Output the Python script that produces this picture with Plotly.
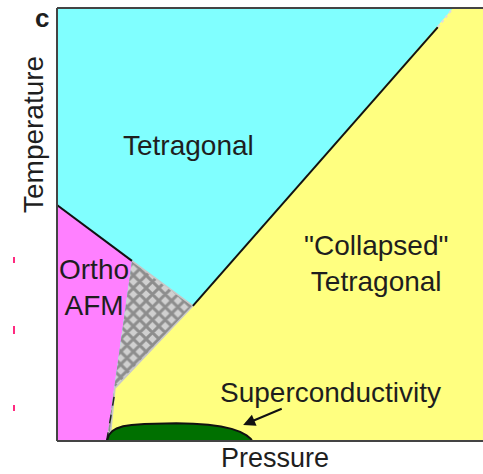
import plotly.graph_objects as go

# Phase-diagram region outlines (Pressure 0-100, Temperature 0-100, schematic units)
ortho_x = [0, 0, 17.6, 11.7]
ortho_y = [0, 54.5, 41.6, 0]

hatch_x = [17.6, 31.9, 13.6, 12.4, 11.7]
hatch_y = [41.6, 31.2, 12.2, 0, 0]

collapsed_x = [31.9, 93.0, 100, 100, 11.7, 13.6]
collapsed_y = [31.2, 100, 100, 0, 0, 12.2]

ortho_line_x = [0, 17.6]
ortho_line_y = [54.5, 41.6]

ct_line_x = [31.9, 89.4]
ct_line_y = [31.2, 95.6]

ct_tail_x = [89.4, 93.0]
ct_tail_y = [95.6, 100]

low_dash_x = [13.4, 11.7]
low_dash_y = [10.2, 0.2]

sc_x = [11.7, 12.2, 13.0, 14.0, 15.5, 17.5, 20.5, 24.0, 28.0, 32.0, 35.5, 38.5, 41.0, 43.0, 44.5, 45.5, 45.8]
sc_y = [0, 1.4, 2.3, 2.9, 3.4, 3.7, 3.95, 4.1, 4.1, 4.0, 3.75, 3.35, 2.8, 2.1, 1.3, 0.5, 0]

FONT = "Liberation Sans, Arial, sans-serif"
TXT = "#1e1e1e"

fig = go.Figure()

fig.add_trace(go.Scatter(x=collapsed_x, y=collapsed_y, fill="toself", mode="none",
                         fillcolor="#FFFF80", hoverinfo="skip"))
fig.add_trace(go.Scatter(x=ortho_x, y=ortho_y, fill="toself", mode="none",
                         fillcolor="#FF80FF", hoverinfo="skip"))
fig.add_trace(go.Scatter(x=hatch_x, y=hatch_y, fill="toself", mode="lines",
                         line=dict(color="#c8c8c8", width=1.5),
                         fillcolor="#c8c8c8",
                         fillpattern=dict(shape="x", fgcolor="#4a4a4a", bgcolor="#d0d0d0",
                                          size=9, solidity=0.55),
                         hoverinfo="skip"))
fig.add_trace(go.Scatter(x=ortho_line_x, y=ortho_line_y, mode="lines",
                         line=dict(color="#111111", width=2), hoverinfo="skip"))
fig.add_trace(go.Scatter(x=ct_line_x, y=ct_line_y, mode="lines",
                         line=dict(color="#111111", width=2), hoverinfo="skip"))
fig.add_trace(go.Scatter(x=ct_tail_x, y=ct_tail_y, mode="lines",
                         line=dict(color="#dddddd", width=2, dash="dot"), hoverinfo="skip"))
fig.add_trace(go.Scatter(x=low_dash_x, y=low_dash_y, mode="lines",
                         line=dict(color="#222222", width=1.5, dash="dash"), hoverinfo="skip"))
fig.add_trace(go.Scatter(x=sc_x, y=sc_y, fill="toself", mode="lines",
                         line=dict(color="#111111", width=2),
                         fillcolor="#007000", hoverinfo="skip"))

def px(xp):
    return (xp - 57) / 426

def py(yp):
    return (441 - yp) / 433

anns = [
    dict(text="Tetragonal", x=px(188), y=py(145), size=28),
    dict(text="\"Collapsed\"<br>Tetragonal", x=px(376), y=py(263), size=28),
    dict(text="Ortho<br>AFM", x=px(94), y=py(287), size=28),
    dict(text="Superconductivity", x=px(330), y=py(392), size=28),
    dict(text="Pressure", x=px(275), y=py(458), size=27),
    dict(text="<b>c</b>", x=px(42), y=py(18), size=26),
]
for a in anns:
    fig.add_annotation(text=a["text"], x=a["x"], y=a["y"], xref="paper", yref="paper",
                       showarrow=False, xanchor="center", yanchor="middle",
                       font=dict(family=FONT, size=a["size"], color=TXT))

fig.add_annotation(text="Temperature", x=px(33), y=py(135), xref="paper", yref="paper",
                   showarrow=False, textangle=-90, xanchor="center", yanchor="middle",
                   font=dict(family=FONT, size=28, color=TXT))

fig.add_annotation(x=43.7, y=3.7, ax=53.1, ay=7.6, xref="x", yref="y", axref="x", ayref="y",
                   text="", showarrow=True, arrowhead=2, arrowsize=1.2, arrowwidth=2,
                   arrowcolor="#111111")

# frame lines
for x0, y0, x1, y1 in [(0, 0, 0, 1), (0, 1, 1, 1), (0, 0, 1, 0)]:
    fig.add_shape(type="line", xref="paper", yref="paper", x0=x0, y0=y0, x1=x1, y1=y1,
                  line=dict(color="#444444", width=2))

# small pink marks at left margin
for yc, h in [(260, 6), (330, 8), (408, 6)]:
    fig.add_shape(type="rect", xref="paper", yref="paper",
                  x0=px(13), x1=px(15), y0=py(yc + h / 2), y1=py(yc - h / 2),
                  line=dict(width=0), fillcolor="#ff2a80")

fig.update_layout(
    width=483, height=474,
    margin=dict(l=57, r=0, t=8, b=33),
    plot_bgcolor="#80FFFF", paper_bgcolor="white",
    showlegend=False,
    xaxis=dict(range=[0, 100], showgrid=False, zeroline=False, showticklabels=False,
               ticks="", fixedrange=True),
    yaxis=dict(range=[0, 100], showgrid=False, zeroline=False, showticklabels=False,
               ticks="", fixedrange=True),
)

fig.write_html("out.html")
